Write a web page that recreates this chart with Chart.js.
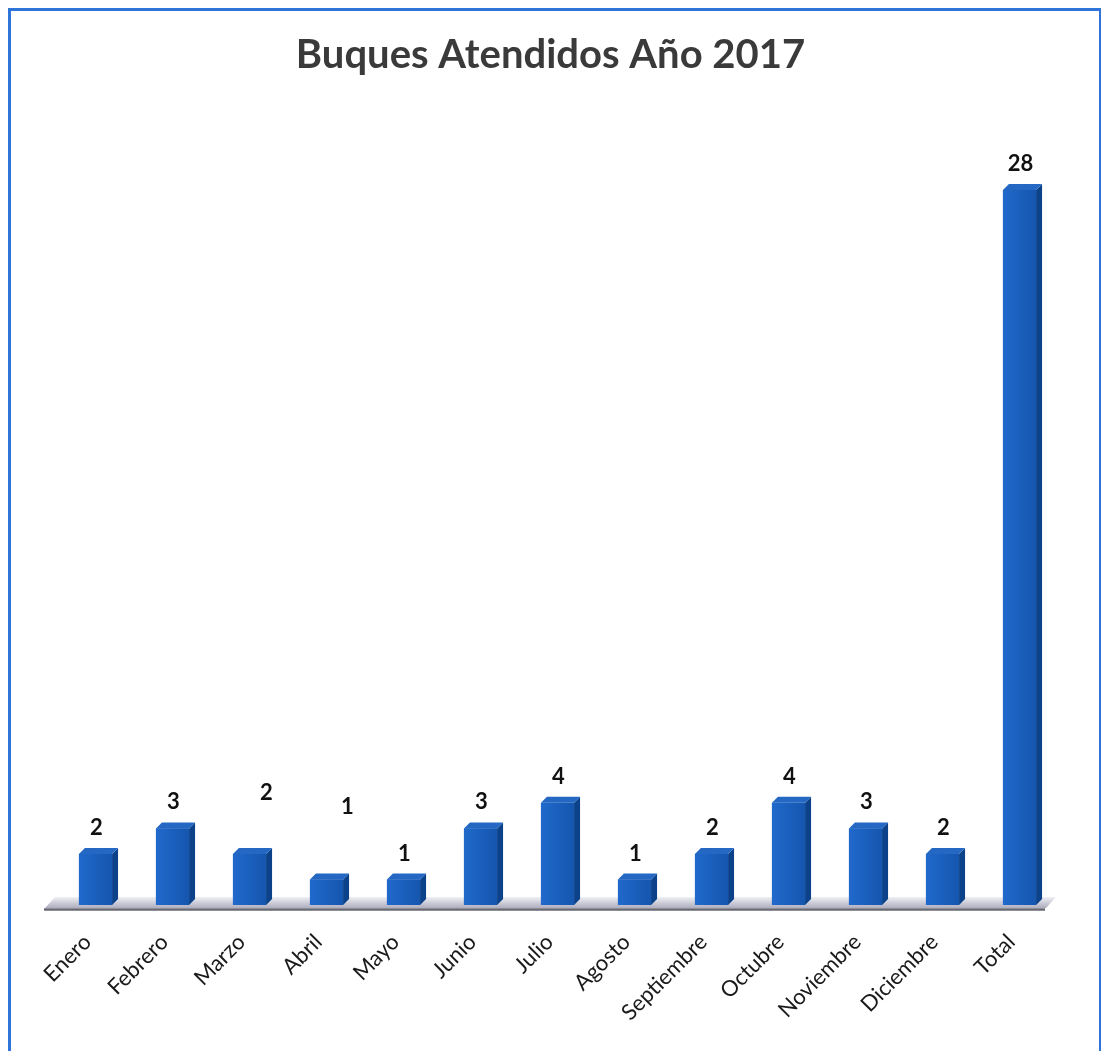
<!DOCTYPE html>
<html>
<head>
<meta charset="utf-8">
<script src="https://cdn.jsdelivr.net/npm/chart.js@4/dist/chart.umd.min.js"></script>
<style>
  html, body { margin: 0; padding: 0; background: #fff; }
  #wrap { position: relative; width: 1101px; height: 1051px; overflow: hidden; }
  #frame { position: absolute; left: 8px; top: 8px; width: 1094px; height: 1060px;
           border: 3px solid #2f74d8; box-sizing: border-box; pointer-events: none; }
</style>
</head>
<body>
<div id="wrap">
  <canvas id="buques" width="1101" height="1051"></canvas>
  <div id="frame"></div>
</div>
<script>
// datos
var meses = ['Enero', 'Febrero', 'Marzo', 'Abril', 'Mayo', 'Junio', 'Julio',
             'Agosto', 'Septiembre', 'Octubre', 'Noviembre', 'Diciembre', 'Total'];
var buques = [2, 3, 2, 1, 1, 3, 4, 1, 2, 4, 3, 2, 28];
var tituloTexto = 'Buques Atendidos Año 2017';

// algunas etiquetas estan desplazadas en el original [dx, dy]
var labelNudge = {2: [16, -35], 3: [20, -47]};

var DEPTH = 6;

// barras con efecto 3D + piso + etiquetas de valor
var bars3d = {
    id: 'bars3d',
    beforeDatasetsDraw: function(chart) {
        var ctx = chart.ctx;
        var area = chart.chartArea;
        var base = chart.scales.y.getPixelForValue(0);
        // piso
        ctx.save();
        var g = ctx.createLinearGradient(0, base - 8, 0, base + 3);
        g.addColorStop(0, '#f0f0f5');
        g.addColorStop(1, '#adadbf');
        ctx.fillStyle = g;
        ctx.beginPath();
        ctx.moveTo(area.left - 12, base + 3);
        ctx.lineTo(area.right - 12, base + 3);
        ctx.lineTo(area.right - 2, base - 8);
        ctx.lineTo(area.left - 2, base - 8);
        ctx.closePath();
        ctx.fill();
        ctx.strokeStyle = '#6a6a74';
        ctx.lineWidth = 2.5;
        ctx.beginPath();
        ctx.moveTo(area.left - 13, base + 4.5);
        ctx.lineTo(area.right - 13, base + 4.5);
        ctx.stroke();
        ctx.restore();
    },
    afterDatasetsDraw: function(chart) {
        var ctx = chart.ctx;
        var meta = chart.getDatasetMeta(0);
        ctx.save();
        meta.data.forEach(function(bar, i) {
            var l = bar.x - bar.width / 2, r = bar.x + bar.width / 2;
            var top = bar.y, bottom = bar.base;
            // cara frontal con degradado
            var fg = ctx.createLinearGradient(l, 0, r, 0);
            fg.addColorStop(0, '#2069cb');
            fg.addColorStop(1, '#1556ae');
            ctx.fillStyle = fg;
            ctx.fillRect(l, top, r - l, bottom - top);
            // cara lateral
            ctx.fillStyle = '#0c4289';
            ctx.beginPath();
            ctx.moveTo(r, bottom);
            ctx.lineTo(r, top);
            ctx.lineTo(r + DEPTH, top - DEPTH);
            ctx.lineTo(r + DEPTH, bottom - DEPTH);
            ctx.closePath();
            ctx.fill();
            // cara superior
            ctx.fillStyle = '#2468c4';
            ctx.beginPath();
            ctx.moveTo(l, top);
            ctx.lineTo(l + DEPTH, top - DEPTH);
            ctx.lineTo(r + DEPTH, top - DEPTH);
            ctx.lineTo(r, top);
            ctx.closePath();
            ctx.fill();

            var n = labelNudge[i] || [0, 0];
            ctx.fillStyle = '#111';
            ctx.font = 'bold 22px Lato';
            ctx.textAlign = 'center';
            ctx.textBaseline = 'middle';
            ctx.fillText(String(buques[i]), bar.x + 1 + n[0], top - DEPTH - 20 + n[1]);
        });
        ctx.restore();
    }
};

var ctx = document.getElementById('buques').getContext('2d');

var chart = new Chart(ctx, {
    type: 'bar',
    data: {
        labels: meses,
        datasets: [{
            data: buques,
            backgroundColor: '#1a5fbd',
            borderWidth: 0,
            barPercentage: 0.43,
            categoryPercentage: 1
        }]
    },
    options: {
        responsive: false,
        animation: false,
        layout: { padding: 0 },
        plugins: {
            legend: { display: false },
            tooltip: { enabled: false },
            title: {
                display: true,
                text: tituloTexto,
                color: '#3a3a3a',
                font: { family: 'Lato', size: 40, weight: 'bold' },
                padding: { top: 31, bottom: 60 }
            }
        },
        scales: {
            x: {
                grid: { display: false, drawTicks: false },
                border: { display: false },
                ticks: {
                    color: '#1a1a1a',
                    font: { family: 'Lato', size: 22 },
                    minRotation: 45,
                    maxRotation: 45,
                    padding: 24,
                    labelOffset: -8
                },
                afterFit: function(scale) {
                    scale.height = 146;
                    scale.paddingLeft = 57;
                    scale.paddingRight = 43;
                }
            },
            y: {
                display: false,
                min: 0,
                max: 30
            }
        }
    },
    plugins: [bars3d]
});
</script>
</body>
</html>
